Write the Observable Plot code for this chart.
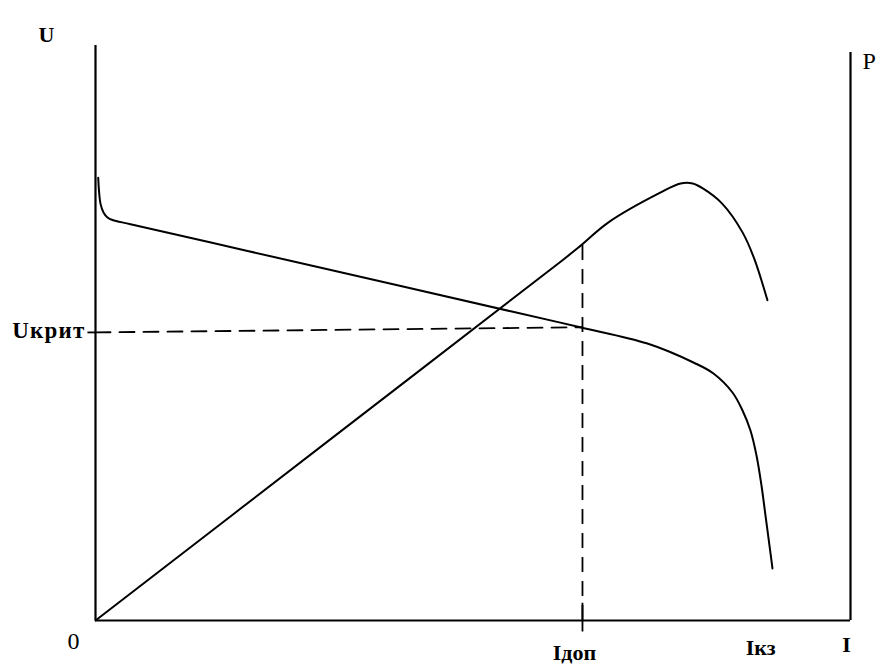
<!DOCTYPE html>
<html>
<head>
<meta charset="utf-8">
<script src="https://cdn.jsdelivr.net/npm/d3@7"></script>
<script src="https://cdn.jsdelivr.net/npm/@observablehq/plot@0.6"></script>
<style>
  html, body { margin: 0; padding: 0; background: #fff; }
</style>
</head>
<body>
<div id="chart"></div>
<script>
// Voltage curve U(I)
const uI = [0.36, 0.46, 0.66, 1.06, 1.59, 2.25, 4.64, 20.0, 40.0, 55.0, 64.2, 73.1, 79.2, 81.85, 84.37, 85.7, 86.75, 87.55, 88.21, 88.74, 89.27, 89.67];
const uV = [77.0, 74.8, 72.5, 70.96, 70.1, 69.65, 68.93, 64.31, 58.29, 53.77, 51.0, 48.17, 44.87, 42.96, 39.65, 36.52, 33.04, 28.7, 23.48, 18.26, 13.04, 9.04];
// Power curve P(I)
const pI = [0, 30.8, 61.6, 64.0, 67.9, 74.8, 77.5, 79.1, 80.5, 83.0, 85.7, 87.2, 89.0];
const pV = [0, 31.2, 62.4, 64.9, 69.2, 74.4, 76.0, 76.0, 75.1, 72.5, 67.5, 63.1, 55.7];
// Marked values
const Ukrit = [50.1, 51.0];      // dashed level (left end, right end)
const Idop = 64.5;
const IdopTop = 65.6;
const Ikz = 88.1;
const axisMax = 100;
const rightAxisTop = 98.8;

const uData = uI.map((x, i) => ({x, y: uV[i]}));
const pData = pI.map((x, i) => ({x, y: pV[i]}));
const ukritLine = [{x: 0, y: Ukrit[0]}, {x: Idop, y: Ukrit[1]}];

const serif = "'Liberation Serif', 'Times New Roman', serif";

const chart = Plot.plot({
  width: 893,
  height: 666,
  marginLeft: 95,
  marginRight: 43,
  marginTop: 45,
  marginBottom: 46,
  x: {domain: [0, axisMax], axis: null},
  y: {domain: [0, axisMax], axis: null},
  style: {fontFamily: serif, background: "#fff"},
  marks: [
    // axes frame
    Plot.ruleX([0], {y1: 0, y2: axisMax, stroke: "#000", strokeWidth: 2.2}),
    Plot.ruleX([axisMax], {y1: 0, y2: rightAxisTop, stroke: "#000", strokeWidth: 2.2}),
    Plot.ruleY([0], {x1: 0, x2: axisMax, stroke: "#000", strokeWidth: 2.2}),
    // Ukrit tick and label
    Plot.ruleY([Ukrit[0]], {x1: -1, x2: 0, stroke: "#000", strokeWidth: 1.8}),
    Plot.text(["Uкрит"], {x: 0, y: Ukrit[0], text: d => d, textAnchor: "end", dx: -10, dy: -2, fontSize: 23, fontWeight: "bold", fill: "#000"}),
    // dashed guides
    Plot.line(ukritLine, {x: "x", y: "y", stroke: "#000", strokeWidth: 1.8, strokeDasharray: "15,9"}),
    Plot.ruleX([Idop], {y1: 0, y2: IdopTop, stroke: "#000", strokeWidth: 1.8, strokeDasharray: "15,9"}),
    Plot.ruleX([Idop], {y1: -2, y2: 3, stroke: "#000", strokeWidth: 1.8}),
    // curves
    Plot.line(uData, {x: "x", y: "y", curve: "catmull-rom", stroke: "#000", strokeWidth: 2}),
    Plot.line(pData, {x: "x", y: "y", curve: "catmull-rom", stroke: "#000", strokeWidth: 2}),
    // axis labels
    Plot.text(["U"], {x: 0, y: axisMax, text: d => d, textAnchor: "middle", dx: -49, dy: -11, fontSize: 22, fontWeight: "bold", fill: "#000"}),
    Plot.text(["P"], {x: axisMax, y: rightAxisTop, text: d => d, textAnchor: "start", dx: 12, dy: 9, fontSize: 24, fill: "#000"}),
    Plot.text(["0"], {x: 0, y: 0, text: d => d, textAnchor: "middle", dx: -22, dy: 21, fontSize: 24, fill: "#000"}),
    Plot.text(["Iдоп"], {x: Idop, y: 0, text: d => d, textAnchor: "middle", dx: -8, dy: 32, fontSize: 22, fontWeight: "bold", fill: "#000"}),
    Plot.text(["Iкз"], {x: Ikz, y: 0, text: d => d, textAnchor: "middle", dx: 0, dy: 27, fontSize: 22, fontWeight: "bold", fill: "#000"}),
    Plot.text(["I"], {x: axisMax, y: 0, text: d => d, textAnchor: "middle", dx: -4, dy: 24, fontSize: 22, fontWeight: "bold", fill: "#000"})
  ]
});
// widen the critical-voltage label slightly, as in the reference lettering
d3.select(chart).selectAll("text").filter(function() { return this.textContent === "Uкрит"; })
  .attr("letter-spacing", "1.2");
document.getElementById("chart").appendChild(chart);
</script>
</body>
</html>
